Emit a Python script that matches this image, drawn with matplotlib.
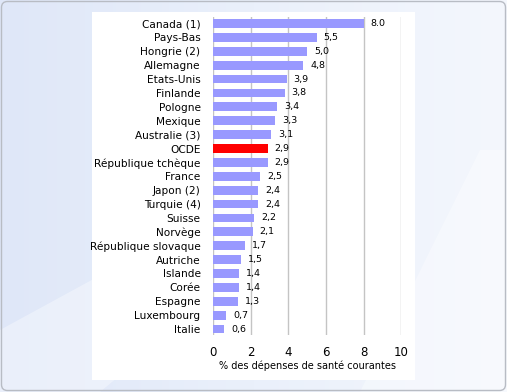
import matplotlib
matplotlib.use("Agg")
import matplotlib.pyplot as plt
import numpy as np
from matplotlib.patches import FancyBboxPatch, Rectangle, Polygon
from matplotlib.colors import LinearSegmentedColormap

countries = ["Canada (1)", "Pays-Bas", "Hongrie (2)", "Allemagne", "Etats-Unis", "Finlande",
             "Pologne", "Mexique", "Australie (3)", "OCDE", "République tchèque", "France",
             "Japon (2)", "Turquie (4)", "Suisse", "Norvège", "République slovaque", "Autriche",
             "Islande", "Corée", "Espagne", "Luxembourg", "Italie"]
values = [8.0, 5.5, 5.0, 4.8, 3.9, 3.8, 3.4, 3.3, 3.1, 2.9, 2.9, 2.5, 2.4, 2.4, 2.2, 2.1,
          1.7, 1.5, 1.4, 1.4, 1.3, 0.7, 0.6]
value_labels = ["8.0", "5,5", "5,0", "4,8", "3,9", "3,8", "3,4", "3,3", "3,1", "2,9", "2,9",
                "2,5", "2,4", "2,4", "2,2", "2,1", "1,7", "1,5", "1,4", "1,4", "1,3", "0,7", "0,6"]
xticks = [0, 2, 4, 6, 8, 10]
xlabel = "% des dépenses de santé courantes"
highlight = "OCDE"

W, H = 507, 392
fig = plt.figure(figsize=(W / 100, H / 100), dpi=100)

# background
bg = fig.add_axes([0, 0, 1, 1])
bg.set_xlim(0, W)
bg.set_ylim(H, 0)
bg.axis("off")
grad = np.linspace(0, 1, 256)[None, :]
cmap = LinearSegmentedColormap.from_list("bgc", ["#dfe7f8", "#eaf0fb", "#f4f7fd"])
bg.imshow(grad, extent=[0, W, H, 0], aspect="auto", cmap=cmap, zorder=0)
bg.add_patch(Polygon([[0, 330], [0, 392], [100, 392], [330, 200], [330, 150]],
                     closed=True, facecolor="white", alpha=0.35, edgecolor="none", zorder=1))
bg.add_patch(Polygon([[360, 392], [507, 392], [507, 150], [480, 150]],
                     closed=True, facecolor="white", alpha=0.35, edgecolor="none", zorder=1))
bg.add_patch(FancyBboxPatch((1.5, 1.5), W - 3, H - 3, boxstyle="round,pad=0,rounding_size=6",
                            facecolor="none", edgecolor="#b8bcc4", linewidth=1.0, zorder=2))
bg.add_patch(Rectangle((92, 12), 323, 368, facecolor="white", edgecolor="none", zorder=3))

ax = fig.add_axes([213 / W, 1 - 335 / H, (401.5 - 213) / W, (335 - 17) / H])
ax.set_facecolor("none")
n = len(countries)
y = np.arange(n)
colors = ["#ff0000" if c == highlight else "#9999ff" for c in countries]
ax.barh(y, values, height=0.63, color=colors, zorder=3)
ax.set_ylim(n - 1 + 0.43, -0.47)
ax.set_xlim(0, 10)
ax.set_xticks(xticks)
ax.set_xticklabels([str(t) for t in xticks], fontsize=8.5)
ax.tick_params(axis="x", length=0, pad=8)
ax.set_yticks(y)
ax.set_yticklabels(countries, fontsize=7.6)
ax.tick_params(axis="y", length=0, pad=9)
for s in ax.spines.values():
    s.set_visible(False)
ax.grid(axis="x", color="#c4c4c4", linewidth=1.0, zorder=1)
ax.set_axisbelow(True)
for yi, v, lab in zip(y, values, value_labels):
    ax.annotate(lab, (v, yi), xytext=(5, 0), textcoords="offset points",
                va="center", ha="left", fontsize=6.8, zorder=4)
ax.set_xlabel(xlabel, fontsize=7, labelpad=1)

fig.savefig("out.png", dpi=100)
